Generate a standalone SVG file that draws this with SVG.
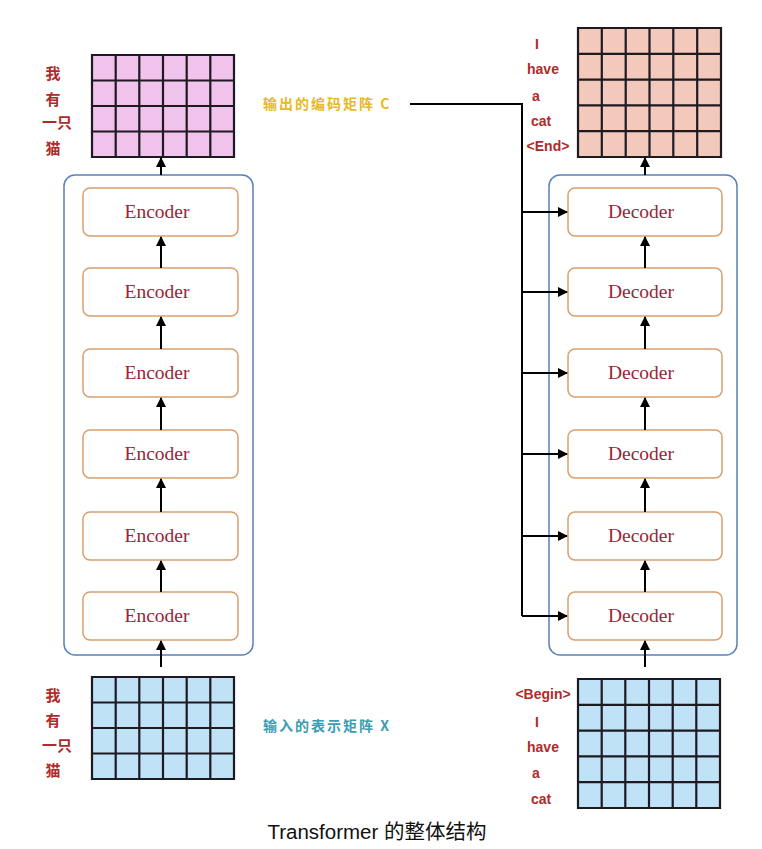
<svg xmlns="http://www.w3.org/2000/svg" width="762" height="849" viewBox="0 0 762 849">
<style>
.grid{stroke:#1e1a22;stroke-width:2.2;fill:none}
.cont{fill:none;stroke:#5a80b8;stroke-width:1.5}
.box{fill:#fff;stroke:#d8a070;stroke-width:1.5}
.bt{font-family:"Liberation Serif","DejaVu Serif",serif;font-size:19.5px;fill:#9a2438;text-anchor:middle}
.lbl{font-family:"Liberation Sans","Noto Sans CJK SC",sans-serif;font-weight:bold;font-size:14px;fill:#b02a2a;text-anchor:middle}
.zh{font-family:"Noto Sans CJK SC",sans-serif;font-weight:bold;font-size:15px;fill:#b02a2a;text-anchor:middle}
.conn{stroke:#000;stroke-width:2;fill:none}
</style>
<defs>
<marker id="ah" viewBox="0 0 10 10" refX="9" refY="5" markerWidth="5" markerHeight="5" orient="auto">
<path d="M0,0 L10,5 L0,10 z" fill="#000"/>
</marker>
</defs>
<rect width="762" height="849" fill="#fff"/>

<g id="enc-output-matrix">
<rect x="92" y="55" width="142" height="102" fill="#f0c2ec"/>
<path class="grid" d="M92,55H234V157H92Z M115.7,55V157 M139.3,55V157 M163,55V157 M186.7,55V157 M210.3,55V157 M92,80.5H234 M92,106H234 M92,131.5H234"/>
<text class="zh" x="53" y="79">我</text>
<text class="zh" x="53" y="105">有</text>
<text class="zh" x="57" y="128">一只</text>
<text class="zh" x="53" y="154">猫</text>
</g>

<g id="enc-input-matrix">
<rect x="92" y="677" width="142" height="102" fill="#bfe2f6"/>
<path class="grid" d="M92,677H234V779H92Z M115.7,677V779 M139.3,677V779 M163,677V779 M186.7,677V779 M210.3,677V779 M92,702.5H234 M92,728H234 M92,753.5H234"/>
<text class="zh" x="53" y="701">我</text>
<text class="zh" x="53" y="726">有</text>
<text class="zh" x="57" y="751">一只</text>
<text class="zh" x="53" y="776">猫</text>
</g>

<g id="dec-output-matrix">
<rect x="578" y="28" width="143" height="129" fill="#f3c9bc"/>
<path class="grid" d="M578,28H721V157H578Z M601.8,28V157 M625.7,28V157 M649.5,28V157 M673.3,28V157 M697.2,28V157 M578,53.8H721 M578,79.6H721 M578,105.4H721 M578,131.2H721"/>
<text class="lbl" x="537" y="49">I</text>
<text class="lbl" x="543" y="74">have</text>
<text class="lbl" x="536" y="101">a</text>
<text class="lbl" x="541" y="126">cat</text>
<text class="lbl" x="548" y="151">&lt;End&gt;</text>
</g>

<g id="dec-input-matrix">
<rect x="578" y="679" width="142" height="129" fill="#bfe2f6"/>
<path class="grid" d="M578,679H720V808H578Z M601.7,679V808 M625.3,679V808 M649,679V808 M672.7,679V808 M696.3,679V808 M578,704.8H720 M578,730.6H720 M578,756.4H720 M578,782.2H720"/>
<text class="lbl" x="543" y="699">&lt;Begin&gt;</text>
<text class="lbl" x="537" y="727">I</text>
<text class="lbl" x="543" y="752">have</text>
<text class="lbl" x="536" y="778">a</text>
<text class="lbl" x="541" y="804">cat</text>
</g>

<g id="encoder-stack">
<rect class="cont" x="64" y="175" width="189" height="480" rx="11"/>
<g id="enc1"><rect class="box" x="83" y="188" width="155" height="48" rx="7"/><text class="bt" x="157" y="218">Encoder</text></g>
<g id="enc2"><rect class="box" x="83" y="268" width="155" height="48" rx="7"/><text class="bt" x="157" y="298">Encoder</text></g>
<g id="enc3"><rect class="box" x="83" y="349" width="155" height="48" rx="7"/><text class="bt" x="157" y="379">Encoder</text></g>
<g id="enc4"><rect class="box" x="83" y="430" width="155" height="48" rx="7"/><text class="bt" x="157" y="460">Encoder</text></g>
<g id="enc5"><rect class="box" x="83" y="512" width="155" height="48" rx="7"/><text class="bt" x="157" y="542">Encoder</text></g>
<g id="enc6"><rect class="box" x="83" y="592" width="155" height="48" rx="7"/><text class="bt" x="157" y="622">Encoder</text></g>
</g>

<g id="decoder-stack">
<rect class="cont" x="549" y="175" width="188" height="480" rx="11"/>
<g id="dec1"><rect class="box" x="568" y="188" width="154" height="48" rx="7"/><text class="bt" x="641" y="218">Decoder</text></g>
<g id="dec2"><rect class="box" x="568" y="268" width="154" height="48" rx="7"/><text class="bt" x="641" y="298">Decoder</text></g>
<g id="dec3"><rect class="box" x="568" y="349" width="154" height="48" rx="7"/><text class="bt" x="641" y="379">Decoder</text></g>
<g id="dec4"><rect class="box" x="568" y="430" width="154" height="48" rx="7"/><text class="bt" x="641" y="460">Decoder</text></g>
<g id="dec5"><rect class="box" x="568" y="512" width="154" height="48" rx="7"/><text class="bt" x="641" y="542">Decoder</text></g>
<g id="dec6"><rect class="box" x="568" y="592" width="154" height="48" rx="7"/><text class="bt" x="641" y="622">Decoder</text></g>
</g>

<g id="labels">
<text x="263" y="109" font-family="Noto Sans CJK SC,sans-serif" font-weight="bold" font-size="14" fill="#e8b828" letter-spacing="2">输出的编码矩阵 C</text>
<text x="263" y="731" font-family="Noto Sans CJK SC,sans-serif" font-weight="bold" font-size="14" fill="#3c9cb4" letter-spacing="2">输入的表示矩阵 X</text>
<text x="377" y="839" font-family="Liberation Sans,Noto Sans CJK SC,sans-serif" font-size="20.5" fill="#111" text-anchor="middle">Transformer 的整体结构</text>
</g>

<g id="connectors">
<line class="conn" x1="161" y1="175" x2="161" y2="158" marker-end="url(#ah)"/>
<line class="conn" x1="161" y1="268" x2="161" y2="237" marker-end="url(#ah)"/>
<line class="conn" x1="161" y1="349" x2="161" y2="317" marker-end="url(#ah)"/>
<line class="conn" x1="161" y1="430" x2="161" y2="398" marker-end="url(#ah)"/>
<line class="conn" x1="161" y1="512" x2="161" y2="479" marker-end="url(#ah)"/>
<line class="conn" x1="161" y1="592" x2="161" y2="561" marker-end="url(#ah)"/>
<line class="conn" x1="161" y1="667" x2="161" y2="641" marker-end="url(#ah)"/>
<line class="conn" x1="645" y1="175" x2="645" y2="158" marker-end="url(#ah)"/>
<line class="conn" x1="645" y1="268" x2="645" y2="237" marker-end="url(#ah)"/>
<line class="conn" x1="645" y1="349" x2="645" y2="317" marker-end="url(#ah)"/>
<line class="conn" x1="645" y1="430" x2="645" y2="398" marker-end="url(#ah)"/>
<line class="conn" x1="645" y1="512" x2="645" y2="479" marker-end="url(#ah)"/>
<line class="conn" x1="645" y1="592" x2="645" y2="561" marker-end="url(#ah)"/>
<line class="conn" x1="645" y1="667" x2="645" y2="641" marker-end="url(#ah)"/>
<path class="conn" d="M410,104H522V616"/>
<line class="conn" x1="522" y1="212" x2="567" y2="212" marker-end="url(#ah)"/>
<line class="conn" x1="522" y1="292" x2="567" y2="292" marker-end="url(#ah)"/>
<line class="conn" x1="522" y1="373" x2="567" y2="373" marker-end="url(#ah)"/>
<line class="conn" x1="522" y1="454" x2="567" y2="454" marker-end="url(#ah)"/>
<line class="conn" x1="522" y1="536" x2="567" y2="536" marker-end="url(#ah)"/>
<line class="conn" x1="522" y1="616" x2="567" y2="616" marker-end="url(#ah)"/>
</g>
</svg>
